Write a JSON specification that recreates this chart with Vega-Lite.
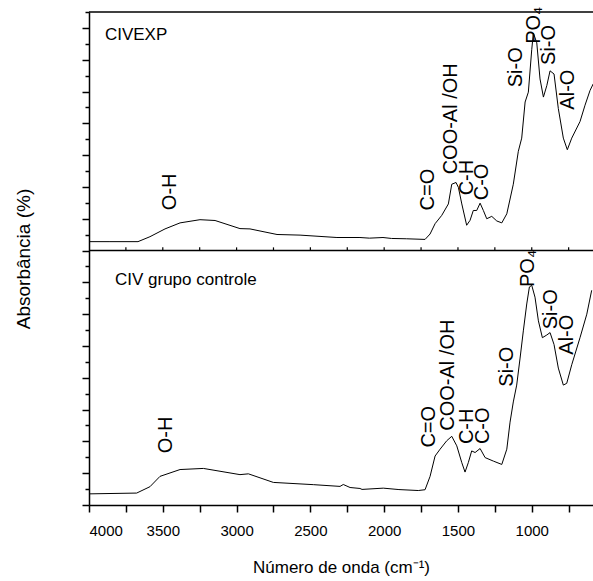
{
  "$schema": "https://vega.github.io/schema/vega-lite/v6.json",
  "autosize": {"type": "none"},
  "padding": {"left": 89, "top": 12, "right": 0, "bottom": 74},
  "width": 504,
  "height": 493,
  "background": "white",
  "config": {
    "view": {"stroke": null},
    "font": "Liberation Sans",
    "axis": {"domainColor": "black", "domainWidth": 1.5, "tickColor": "black", "tickWidth": 1.5, "grid": false, "labelColor": "black", "titleColor": "black", "titleFontWeight": "normal", "labelFont": "Liberation Sans", "titleFont": "Liberation Sans"}
  },
  "datasets": {
    "spectra": [
      {"sample": "CIVEXP", "wn": 4000, "abs": 16.56},
      {"sample": "CIVEXP", "wn": 3858, "abs": 16.56},
      {"sample": "CIVEXP", "wn": 3668, "abs": 16.56},
      {"sample": "CIVEXP", "wn": 3587, "abs": 16.87},
      {"sample": "CIVEXP", "wn": 3485, "abs": 17.36},
      {"sample": "CIVEXP", "wn": 3383, "abs": 17.74},
      {"sample": "CIVEXP", "wn": 3248, "abs": 17.94},
      {"sample": "CIVEXP", "wn": 3146, "abs": 17.89},
      {"sample": "CIVEXP", "wn": 2977, "abs": 17.38},
      {"sample": "CIVEXP", "wn": 2909, "abs": 17.36},
      {"sample": "CIVEXP", "wn": 2726, "abs": 17.01},
      {"sample": "CIVEXP", "wn": 2570, "abs": 16.97},
      {"sample": "CIVEXP", "wn": 2320, "abs": 16.82},
      {"sample": "CIVEXP", "wn": 2164, "abs": 16.82},
      {"sample": "CIVEXP", "wn": 2100, "abs": 16.78},
      {"sample": "CIVEXP", "wn": 2008, "abs": 16.82},
      {"sample": "CIVEXP", "wn": 1950, "abs": 16.76},
      {"sample": "CIVEXP", "wn": 1850, "abs": 16.74},
      {"sample": "CIVEXP", "wn": 1723, "abs": 16.70},
      {"sample": "CIVEXP", "wn": 1689, "abs": 17.04},
      {"sample": "CIVEXP", "wn": 1655, "abs": 17.69},
      {"sample": "CIVEXP", "wn": 1610, "abs": 18.21},
      {"sample": "CIVEXP", "wn": 1565, "abs": 18.93},
      {"sample": "CIVEXP", "wn": 1542, "abs": 20.17},
      {"sample": "CIVEXP", "wn": 1513, "abs": 20.28},
      {"sample": "CIVEXP", "wn": 1497, "abs": 19.97},
      {"sample": "CIVEXP", "wn": 1474, "abs": 18.93},
      {"sample": "CIVEXP", "wn": 1441, "abs": 17.59},
      {"sample": "CIVEXP", "wn": 1418, "abs": 17.90},
      {"sample": "CIVEXP", "wn": 1396, "abs": 18.52},
      {"sample": "CIVEXP", "wn": 1373, "abs": 18.52},
      {"sample": "CIVEXP", "wn": 1350, "abs": 18.98},
      {"sample": "CIVEXP", "wn": 1328, "abs": 18.52},
      {"sample": "CIVEXP", "wn": 1305, "abs": 18.00},
      {"sample": "CIVEXP", "wn": 1271, "abs": 18.15},
      {"sample": "CIVEXP", "wn": 1237, "abs": 17.86},
      {"sample": "CIVEXP", "wn": 1203, "abs": 17.74},
      {"sample": "CIVEXP", "wn": 1169, "abs": 18.31},
      {"sample": "CIVEXP", "wn": 1125, "abs": 20.17},
      {"sample": "CIVEXP", "wn": 1091, "abs": 22.24},
      {"sample": "CIVEXP", "wn": 1068, "abs": 23.07},
      {"sample": "CIVEXP", "wn": 1045, "abs": 25.34},
      {"sample": "CIVEXP", "wn": 1023, "abs": 25.96},
      {"sample": "CIVEXP", "wn": 1000, "abs": 28.65},
      {"sample": "CIVEXP", "wn": 989, "abs": 29.68},
      {"sample": "CIVEXP", "wn": 966, "abs": 29.06},
      {"sample": "CIVEXP", "wn": 944, "abs": 26.79},
      {"sample": "CIVEXP", "wn": 921, "abs": 25.65},
      {"sample": "CIVEXP", "wn": 898, "abs": 26.37},
      {"sample": "CIVEXP", "wn": 876, "abs": 27.30},
      {"sample": "CIVEXP", "wn": 849, "abs": 27.10},
      {"sample": "CIVEXP", "wn": 820, "abs": 24.93},
      {"sample": "CIVEXP", "wn": 786, "abs": 23.07},
      {"sample": "CIVEXP", "wn": 759, "abs": 22.34},
      {"sample": "CIVEXP", "wn": 729, "abs": 23.07},
      {"sample": "CIVEXP", "wn": 673, "abs": 24.11},
      {"sample": "CIVEXP", "wn": 639, "abs": 25.14},
      {"sample": "CIVEXP", "wn": 605, "abs": 26.07},
      {"sample": "CIVEXP", "wn": 583, "abs": 26.49},
      {"sample": "CIV grupo controle", "wn": 4000, "abs": 0.70},
      {"sample": "CIV grupo controle", "wn": 3677, "abs": 0.75},
      {"sample": "CIV grupo controle", "wn": 3587, "abs": 1.15},
      {"sample": "CIV grupo controle", "wn": 3519, "abs": 1.80},
      {"sample": "CIV grupo controle", "wn": 3383, "abs": 2.23},
      {"sample": "CIV grupo controle", "wn": 3225, "abs": 2.30},
      {"sample": "CIV grupo controle", "wn": 2977, "abs": 1.91},
      {"sample": "CIV grupo controle", "wn": 2920, "abs": 1.96},
      {"sample": "CIV grupo controle", "wn": 2751, "abs": 1.42},
      {"sample": "CIV grupo controle", "wn": 2480, "abs": 1.28},
      {"sample": "CIV grupo controle", "wn": 2299, "abs": 1.17},
      {"sample": "CIV grupo controle", "wn": 2277, "abs": 1.29},
      {"sample": "CIV grupo controle", "wn": 2231, "abs": 1.10},
      {"sample": "CIV grupo controle", "wn": 2164, "abs": 1.04},
      {"sample": "CIV grupo controle", "wn": 2150, "abs": 0.98},
      {"sample": "CIV grupo controle", "wn": 2006, "abs": 1.06},
      {"sample": "CIV grupo controle", "wn": 1900, "abs": 0.97},
      {"sample": "CIV grupo controle", "wn": 1769, "abs": 0.91},
      {"sample": "CIV grupo controle", "wn": 1723, "abs": 0.96},
      {"sample": "CIV grupo controle", "wn": 1689, "abs": 1.80},
      {"sample": "CIV grupo controle", "wn": 1655, "abs": 3.08},
      {"sample": "CIV grupo controle", "wn": 1621, "abs": 3.51},
      {"sample": "CIV grupo controle", "wn": 1576, "abs": 4.04},
      {"sample": "CIV grupo controle", "wn": 1542, "abs": 4.32},
      {"sample": "CIV grupo controle", "wn": 1508, "abs": 3.72},
      {"sample": "CIV grupo controle", "wn": 1474, "abs": 2.66},
      {"sample": "CIV grupo controle", "wn": 1452, "abs": 2.07},
      {"sample": "CIV grupo controle", "wn": 1430, "abs": 2.66},
      {"sample": "CIV grupo controle", "wn": 1407, "abs": 3.40},
      {"sample": "CIV grupo controle", "wn": 1384, "abs": 3.30},
      {"sample": "CIV grupo controle", "wn": 1350, "abs": 3.55},
      {"sample": "CIV grupo controle", "wn": 1316, "abs": 2.98},
      {"sample": "CIV grupo controle", "wn": 1260, "abs": 2.76},
      {"sample": "CIV grupo controle", "wn": 1203, "abs": 2.55},
      {"sample": "CIV grupo controle", "wn": 1169, "abs": 3.51},
      {"sample": "CIV grupo controle", "wn": 1147, "abs": 5.21},
      {"sample": "CIV grupo controle", "wn": 1125, "abs": 6.48},
      {"sample": "CIV grupo controle", "wn": 1102, "abs": 7.54},
      {"sample": "CIV grupo controle", "wn": 1079, "abs": 9.24},
      {"sample": "CIV grupo controle", "wn": 1057, "abs": 10.95},
      {"sample": "CIV grupo controle", "wn": 1034, "abs": 12.64},
      {"sample": "CIV grupo controle", "wn": 1016, "abs": 13.71},
      {"sample": "CIV grupo controle", "wn": 1000, "abs": 13.81},
      {"sample": "CIV grupo controle", "wn": 978, "abs": 13.07},
      {"sample": "CIV grupo controle", "wn": 955, "abs": 11.58},
      {"sample": "CIV grupo controle", "wn": 928, "abs": 10.52},
      {"sample": "CIV grupo controle", "wn": 898, "abs": 10.69},
      {"sample": "CIV grupo controle", "wn": 876, "abs": 10.84},
      {"sample": "CIV grupo controle", "wn": 849, "abs": 10.09},
      {"sample": "CIV grupo controle", "wn": 820, "abs": 8.61},
      {"sample": "CIV grupo controle", "wn": 786, "abs": 7.54},
      {"sample": "CIV grupo controle", "wn": 763, "abs": 7.65},
      {"sample": "CIV grupo controle", "wn": 729, "abs": 8.82},
      {"sample": "CIV grupo controle", "wn": 673, "abs": 10.52},
      {"sample": "CIV grupo controle", "wn": 627, "abs": 12.00},
      {"sample": "CIV grupo controle", "wn": 594, "abs": 13.50}
    ],
    "bands": [
      {"label": "O-H", "wn": 3451, "y": 18.54},
      {"label": "C=O", "wn": 1705, "y": 18.52},
      {"label": "COO-Al /OH", "wn": 1549, "y": 20.79},
      {"label": "C-H", "wn": 1441, "y": 19.47},
      {"label": "C-O", "wn": 1339, "y": 19.16},
      {"label": "Si-O", "wn": 1109, "y": 26.27},
      {"label": "PO₄", "wn": 983, "y": 29.0},
      {"label": "Si-O", "wn": 883, "y": 27.67},
      {"label": "Al-O", "wn": 752, "y": 24.86},
      {"label": "O-H", "wn": 3478, "y": 3.25},
      {"label": "C=O", "wn": 1694, "y": 3.61},
      {"label": "COO-Al /OH", "wn": 1565, "y": 4.67},
      {"label": "C-H", "wn": 1441, "y": 3.83},
      {"label": "C-O", "wn": 1328, "y": 3.83},
      {"label": "Si-O", "wn": 1169, "y": 7.44},
      {"label": "PO₄", "wn": 1023, "y": 13.71},
      {"label": "Si-O", "wn": 869, "y": 11.05},
      {"label": "Al-O", "wn": 763, "y": 9.45}
    ],
    "panels": [
      {"name": "CIVEXP", "wn": 3892, "y": 29.58},
      {"name": "CIV grupo controle", "wn": 3824, "y": 14.15}
    ],
    "frames": [
      {"edge": 16},
      {"edge": 31}
    ],
    "dividerTicks": [
      {"wn": 3750}, {"wn": 3500}, {"wn": 3250}, {"wn": 3000}, {"wn": 2750},
      {"wn": 2500}, {"wn": 2250}, {"wn": 2000}, {"wn": 1750}, {"wn": 1500},
      {"wn": 1250}, {"wn": 1000}, {"wn": 750}
    ]
  },
  "layer": [
    {
      "data": {"name": "spectra"},
      "mark": {"type": "line", "color": "black", "strokeWidth": 1, "clip": true},
      "encoding": {
        "x": {
          "field": "wn", "type": "quantitative",
          "scale": {"domain": [4000, 585], "nice": false, "zero": false},
          "axis": {
            "values": [4000, 3750, 3500, 3250, 3000, 2750, 2500, 2250, 2000, 1750, 1500, 1250, 1000, 750],
            "tickCount": 60,
            "labelExpr": "datum.value % 500 === 0 ? datum.value : ''",
            "format": "d",
            "tickSize": 7,
            "labelPadding": 11,
            "labelFontSize": 15,
            "title": "Número de onda (cm⁻¹)",
            "titleFontSize": 17,
            "titlePadding": 21
          }
        },
        "y": {
          "field": "abs", "type": "quantitative",
          "scale": {"domain": [0, 31], "nice": false, "zero": false},
          "axis": {
            "values": [0, 1, 2, 3, 4, 5, 6, 7, 8, 9, 10, 11, 12, 13, 14, 15, 16, 17, 18, 19, 20, 21, 22, 23, 24, 25, 26, 27, 28, 29, 30, 31],
            "tickCount": 60,
            "labels": false,
            "tickSize": {"expr": "datum.value % 2 === 0 ? 7 : 4"},
            "title": "Absorbância (%)",
            "titleFontSize": 19,
            "titlePadding": 48
          }
        },
        "detail": {"field": "sample"}
      }
    },
    {
      "data": {"name": "frames"},
      "mark": {"type": "rule", "color": "black", "strokeWidth": 1.5},
      "encoding": {
        "y": {"field": "edge", "type": "quantitative"}
      }
    },
    {
      "data": {"name": "dividerTicks"},
      "mark": {"type": "rule", "color": "black", "strokeWidth": 1.2},
      "encoding": {
        "x": {"field": "wn", "type": "quantitative"},
        "y": {"datum": 16},
        "y2": {"datum": 16.2}
      }
    },
    {
      "data": {"name": "bands"},
      "mark": {"type": "text", "angle": 270, "align": "left", "baseline": "middle", "fontSize": 20, "color": "black"},
      "encoding": {
        "x": {"field": "wn", "type": "quantitative"},
        "y": {"field": "y", "type": "quantitative"},
        "text": {"field": "label"}
      }
    },
    {
      "data": {"name": "panels"},
      "mark": {"type": "text", "align": "left", "baseline": "middle", "fontSize": 17, "color": "black"},
      "encoding": {
        "x": {"field": "wn", "type": "quantitative"},
        "y": {"field": "y", "type": "quantitative"},
        "text": {"field": "name"}
      }
    }
  ]
}
